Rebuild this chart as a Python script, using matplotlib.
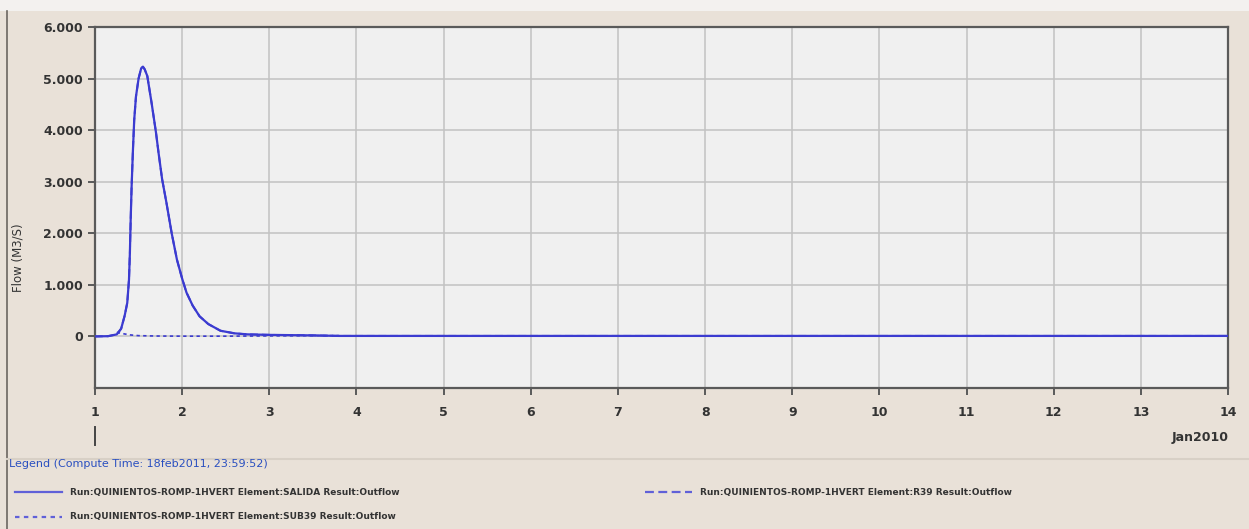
import matplotlib.pyplot as plt
from matplotlib.lines import Line2D
from matplotlib.patches import Rectangle
from matplotlib.ticker import FuncFormatter

# time in days of Jan2010, flow in m3/s
salida_t = [1.0, 1.15, 1.25, 1.30, 1.34, 1.37, 1.39, 1.40, 1.41, 1.42, 1.435, 1.45,
            1.47, 1.50, 1.53, 1.55, 1.57, 1.60, 1.65, 1.70, 1.73, 1.77, 1.82, 1.88,
            1.94, 2.00, 2.05, 2.12, 2.20, 2.30, 2.44, 2.60, 2.75, 3.0, 3.5, 3.8, 14.0]
salida_q = [0, 5, 40, 150, 400, 650, 1100, 1600, 2300, 2900, 3600, 4200,
            4650, 5000, 5200, 5230, 5180, 5050, 4520, 3950, 3550, 3050, 2590, 2000,
            1490, 1120, 850, 600, 390, 240, 110, 60, 40, 30, 20, 10, 10]

r39_t = salida_t
r39_q = salida_q

sub39_t = [1.25, 1.30, 1.40, 1.50, 1.70, 2.0, 2.5, 3.0, 3.5, 3.8]
sub39_q = [80, 60, 30, 15, 8, 5, 5, 10, 15, 15]

x_ticks = list(range(1, 15))
y_ticks = [0, 1000, 2000, 3000, 4000, 5000, 6000]

BEIGE = '#e9e1d8'
BLUE = '#3b3bd0'
W, H = 1249, 529


def fx(px):
    return px / W


def fy(py):
    return 1 - py / H


fig = plt.figure(figsize=(12.49, 5.29), dpi=100, facecolor=BEIGE)
fig.patches.append(Rectangle((0, fy(11)), 1, 11 / H, transform=fig.transFigure,
                             facecolor='#f3f1ef', edgecolor='none', zorder=0))
fig.add_artist(Line2D([fx(7), fx(7)], [fy(11), fy(529)], transform=fig.transFigure,
                      color='#6b6660', lw=1.2))
fig.add_artist(Line2D([fx(7), 1], [fy(459), fy(459)], transform=fig.transFigure,
                      color='#d8d0c6', lw=1.5))

ax = fig.add_axes([fx(95), fy(388), fx(1228) - fx(95), fy(27) - fy(388)])
ax.set_facecolor('#f0f0f0')
ax.plot(salida_t, salida_q, color=BLUE, lw=1.6, zorder=3)
ax.plot(r39_t, r39_q, color=BLUE, lw=1.4, ls=(0, (4, 2)), zorder=2)
ax.plot(sub39_t, sub39_q, color=BLUE, lw=1.2, ls=(0, (2, 2)), zorder=2)

ax.set_xlim(1, 14)
ax.set_ylim(-1000, 6000)
ax.set_xticks(x_ticks)
ax.set_yticks(y_ticks)
ax.yaxis.set_major_formatter(FuncFormatter(lambda v, p: f'{int(v):,}'.replace(',', '.')))
ax.grid(True, color='#c2c2c2', lw=1.1)
ax.set_axisbelow(True)
for side in ['top', 'right', 'left', 'bottom']:
    ax.spines[side].set_color('#5a5a5a')
    ax.spines[side].set_linewidth(1.6)
ax.tick_params(axis='both', colors='#5a5a5a', length=5, width=1.4, labelsize=9,
               labelcolor='#333333')
ax.tick_params(axis='x', pad=8)
for lbl in ax.get_xticklabels() + ax.get_yticklabels():
    lbl.set_fontweight('semibold')

fig.text(fx(18), fy(258), 'Flow (M3/S)', rotation=90, ha='center', va='center',
         fontsize=8.5, color='#333333')
fig.text(fx(1229), fy(437), 'Jan2010', ha='right', va='center', fontsize=9,
         color='#333333', fontweight='semibold')
fig.add_artist(Line2D([fx(95), fx(95)], [fy(427), fy(445)], transform=fig.transFigure,
                      color='#444444', lw=1.4))

fig.text(fx(9), fy(464), 'Legend (Compute Time: 18feb2011, 23:59:52)', ha='left', va='center',
         fontsize=8, color='#2a4fc0')

legend_rows = [
    (15, 492, '-', 'Run:QUINIENTOS-ROMP-1HVERT Element:SALIDA Result:Outflow'),
    (645, 492, (0, (4, 2)), 'Run:QUINIENTOS-ROMP-1HVERT Element:R39 Result:Outflow'),
    (15, 517, (0, (2, 2)), 'Run:QUINIENTOS-ROMP-1HVERT Element:SUB39 Result:Outflow'),
]
for x0, y0, style, label in legend_rows:
    fig.add_artist(Line2D([fx(x0), fx(x0 + 47)], [fy(y0), fy(y0)], transform=fig.transFigure,
                          color='#6060d8', lw=1.6, ls=style))
    fig.text(fx(x0 + 55), fy(y0), label, ha='left', va='center', fontsize=6.5,
             color='#333333', fontweight='bold')

fig.savefig('out.png', dpi=100, facecolor=BEIGE)
